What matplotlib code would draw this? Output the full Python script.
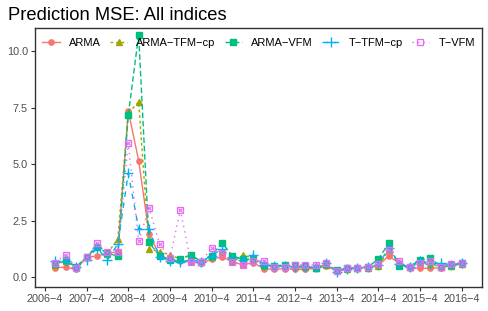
import matplotlib
matplotlib.use("Agg")
import matplotlib.pyplot as plt
import numpy as np

plt.rcParams['font.family'] = ['Liberation Sans', 'DejaVu Sans']

# quarter index 1..40, ticks every 4 quarters
quarters = np.arange(1, 41)
tick_pos = np.arange(0, 41, 4)
tick_labels = ['2006\u22124', '2007\u22124', '2008\u22124', '2009\u22124', '2010\u22124',
               '2011\u22124', '2012\u22124', '2013\u22124', '2014\u22124', '2015\u22124',
               '2016\u22124']

arma = [0.43, 0.44, 0.35, 0.88, 0.94, 1.06, 1.13, 7.37, 5.16, 1.90,
        0.99, 0.77, 0.70, 0.68, 0.62, 0.80, 0.90, 0.69, 0.54, 0.65,
        0.38, 0.35, 0.38, 0.35, 0.35, 0.40, 0.50, 0.28, 0.38, 0.42,
        0.45, 0.52, 0.95, 0.62, 0.40, 0.40, 0.40, 0.42, 0.54, 0.62]
arma_tfm_cp = [0.55, 0.72, 0.45, 0.90, 1.40, 1.05, 1.70, 7.27, 7.76, 1.25,
               1.13, 1.00, 0.80, 1.00, 0.68, 0.90, 1.13, 0.70, 0.99, 0.84,
               0.50, 0.45, 0.50, 0.50, 0.45, 0.40, 0.55, 0.30, 0.38, 0.43,
               0.42, 0.50, 1.20, 0.55, 0.45, 0.65, 0.60, 0.45, 0.50, 0.60]
arma_vfm = [0.60, 0.75, 0.47, 0.88, 1.35, 1.06, 0.94, 7.17, 10.73, 1.55,
            0.94, 0.75, 0.80, 0.99, 0.69, 0.94, 1.53, 0.94, 0.80, 0.80,
            0.55, 0.50, 0.55, 0.55, 0.50, 0.40, 0.60, 0.30, 0.40, 0.43,
            0.45, 0.80, 1.50, 0.50, 0.47, 0.77, 0.85, 0.47, 0.54, 0.65]
t_tfm_cp = [0.70, 0.70, 0.45, 0.75, 1.30, 0.77, 1.47, 4.60, 2.15, 2.15,
            0.88, 0.74, 0.68, 0.77, 0.68, 0.96, 1.25, 0.80, 0.75, 0.99,
            0.55, 0.50, 0.50, 0.45, 0.45, 0.45, 0.65, 0.25, 0.38, 0.43,
            0.45, 0.55, 1.30, 0.60, 0.45, 0.70, 0.60, 0.62, 0.55, 0.62]
t_vfm = [0.65, 1.00, 0.43, 0.88, 1.50, 1.10, 1.10, 5.94, 1.60, 3.07,
         1.47, 0.84, 2.98, 0.69, 0.68, 1.31, 1.09, 0.69, 0.54, 0.72,
         0.72, 0.44, 0.47, 0.54, 0.54, 0.54, 0.62, 0.29, 0.40, 0.43,
         0.47, 0.59, 1.21, 0.73, 0.44, 0.62, 0.73, 0.44, 0.59, 0.65]

series = [
    ('ARMA', arma, '#F8766D', 'o', (None, None)),
    ('ARMA\u2212TFM\u2212cp', arma_tfm_cp, '#A3A500', '^', (2, 2)),
    ('ARMA\u2212VFM', arma_vfm, '#00BF7D', 's', (4, 2)),
    ('T\u2212TFM\u2212cp', t_tfm_cp, '#00B0F6', '+', (4, 4)),
    ('T\u2212VFM', t_vfm, '#E76BF3', 's', (1, 3)),
]

fig = plt.figure(figsize=(4.88, 3.11), dpi=100)
ax = fig.add_axes([0.0717, 0.078, 0.916, 0.831])

for name, vals, col, mk, dash in series:
    if mk == '+':
        line, = ax.plot(quarters, vals, color=col, lw=1.0, marker='+', ms=7,
                        mew=1.0, label=name)
    elif name.startswith('T\u2212VFM'):
        line, = ax.plot(quarters, vals, color=col, lw=1.0, marker='s', ms=4.5,
                        mfc='none', mew=0.9, label=name)
        ax.plot(quarters, vals, ls='none', color=col, marker='x', ms=3.2, mew=0.8)
    else:
        ms = 3.8 if mk == 'o' else 4.2
        line, = ax.plot(quarters, vals, color=col, lw=1.0, marker=mk, ms=ms,
                        label=name)
    if dash[0] is not None:
        line.set_dashes(dash)

ax.set_xlim(-0.95, 41.95)
ax.set_ylim(-0.42, 11.02)
ax.set_xticks(tick_pos)
ax.set_xticklabels(tick_labels)
ax.set_yticks([0, 2.5, 5, 7.5, 10])
ax.set_yticklabels(['0.0', '2.5', '5.0', '7.5', '10.0'])
ax.tick_params(axis='both', labelsize=7.8, labelcolor='#4D4D4D', color='#333333',
               length=3, width=0.8, pad=2)
for sp in ax.spines.values():
    sp.set_color('#333333')
    sp.set_linewidth(1.0)

ax.legend(loc='upper center', bbox_to_anchor=(0.5, 1.0), ncol=5, frameon=False,
          fontsize=8, handlelength=1.6, columnspacing=0.8, handletextpad=0.8,
          borderaxespad=0.5)

fig.text(0.016, 0.936, 'Prediction MSE: All indices', fontsize=13.2, ha='left',
         va='baseline')

fig.savefig('out.png', dpi=100)
